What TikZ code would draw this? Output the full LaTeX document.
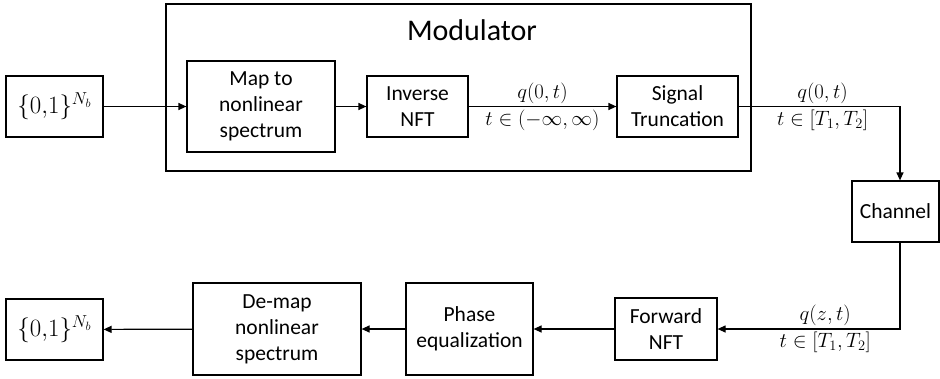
\documentclass[tikz,border=0pt]{standalone}
\usepackage{fontspec}
\setmainfont{Carlito}
\usetikzlibrary{arrows.meta}

\begin{document}
\begin{tikzpicture}[x=1pt, y=-1pt,
    block/.style={draw, line width=1.2pt, align=center, inner sep=0pt,
        font=\fontsize{21.5}{26}\selectfont},
    flow/.style={line width=1.2pt, -{Triangle[length=8pt, width=7pt]}},
    sig/.style={font=\fontsize{22}{26}\selectfont, inner sep=2.5pt}]

    \useasboundingbox (0,0) rectangle (940,378);

    % Modulator frame
    \node[block, minimum width=585pt, minimum height=167pt] (mod) at (458.5,87.5) {};
    \node[font=\fontsize{30}{34}\selectfont] (modtitle) at (472,30) {Modulator};

    % Top row
    \node[block, minimum width=97pt, minimum height=61pt] (bitsin) at (54.5,106.5)
        {\fontsize{23}{27}\selectfont$\{0{,}1\}^{N_b}$};
    \node[block, minimum width=148pt, minimum height=91pt] (map) at (261,106.5)
        {Map to\\nonlinear\\spectrum};
    \node[block, minimum width=101pt, minimum height=61pt] (inv) at (417.5,106.5)
        {Inverse\\NFT};
    \node[block, minimum width=121pt, minimum height=61pt] (trunc) at (677.5,106.5)
        {Signal\\Truncation};

    % Channel
    \node[block, minimum width=87pt, minimum height=61pt] (channel) at (895.5,211.5)
        {Channel};
    \coordinate (ctop) at (900,106.5);
    \coordinate (cbot) at (900,329);

    % Bottom row
    \node[block, minimum width=102pt, minimum height=62pt] (fwd) at (666,329)
        {Forward\\NFT};
    \node[block, minimum width=127pt, minimum height=92pt] (phase) at (469.5,329)
        {Phase\\equalization};
    \node[block, minimum width=168pt, minimum height=92pt] (demap) at (277,329)
        {De-map\\nonlinear\\spectrum};
    \node[block, minimum width=97pt, minimum height=61pt] (bitsout) at (54.5,329.5)
        {\fontsize{23}{27}\selectfont$\{0{,}1\}^{N_b}$};

    % Connectors
    \draw[flow] (bitsin) -- (map);
    \draw[flow] (map) -- (inv);
    \draw[flow] (inv) -- node[sig, above] {$q(0,t)$}
        node[sig, below] {$t\in(-\infty,\infty)$} (trunc);
    \draw[flow] (trunc) -- node[sig, above, pos=0.52] {$q(0,t)$}
        node[sig, below, pos=0.52] {$t\in[T_1,T_2]$} (ctop) -- (ctop |- channel.north);
    \draw[flow] (channel.south -| cbot) -- (cbot) -- node[sig, above, pos=0.41] {$q(z,t)$}
        node[sig, below, pos=0.41] {$t\in[T_1,T_2]$} (fwd);
    \draw[flow] (fwd) -- (phase);
    \draw[flow] (phase) -- (demap);
    \draw[flow] (demap) -- (bitsout);

\end{tikzpicture}
\end{document}
